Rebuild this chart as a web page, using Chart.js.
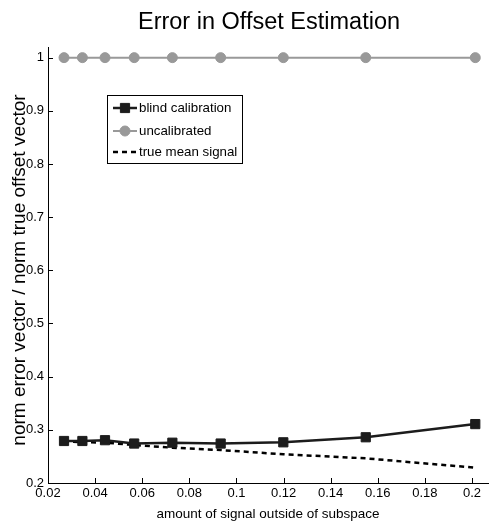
<!DOCTYPE html>
<html>
<head>
<meta charset="utf-8">
<script src="https://cdn.jsdelivr.net/npm/chart.js@4/dist/chart.umd.min.js"></script>
<style>
  html, body { margin: 0; padding: 0; background: #fff; }
  #wrap { width: 490px; height: 525px; }
</style>
</head>
<body>
<div id="wrap"><canvas id="c" width="490" height="525"></canvas></div>
<script>
// Fraction of the signal lying outside the subspace
const signalOutside = [0.0268, 0.0346, 0.0442, 0.0566, 0.0728, 0.0933, 0.1199, 0.1549, 0.2014];
// Relative offset error for each method
const blindCalibration = [0.279, 0.279, 0.2805, 0.2742, 0.2758, 0.2742, 0.2765, 0.286, 0.3108];
const uncalibrated     = [1, 1, 1, 1, 1, 1, 1, 1, 1];
const trueMeanSignal   = [0.278, 0.277, 0.276, 0.2714, 0.2664, 0.262, 0.254, 0.2464, 0.2288];
// Axis tick labels
const xTicks = [0.02, 0.04, 0.06, 0.08, 0.1, 0.12, 0.14, 0.16, 0.18, 0.2];
const yTicks = [0.2, 0.3, 0.4, 0.5, 0.6, 0.7, 0.8, 0.9, 1];

const FONT = '"Liberation Sans", Arial, Helvetica, sans-serif';
const toPoints = ys => signalOutside.map((x, i) => ({ x: x, y: ys[i] }));

// Inward tick marks on the left and bottom axes
const inwardTicks = {
  id: 'inwardTicks',
  afterDraw(chart) {
    const { ctx, chartArea: a, scales: { x, y } } = chart;
    ctx.save();
    ctx.strokeStyle = '#000';
    ctx.lineWidth = 1;
    ctx.beginPath();
    x.ticks.forEach(t => {
      const px = Math.round(x.getPixelForValue(t.value)) + 0.5;
      ctx.moveTo(px, a.bottom);
      ctx.lineTo(px, a.bottom - 5);
    });
    y.ticks.forEach(t => {
      const py = Math.round(y.getPixelForValue(t.value)) + 0.5;
      ctx.moveTo(a.left, py);
      ctx.lineTo(a.left + 5, py);
    });
    ctx.stroke();
    ctx.restore();
  }
};

// Title above the plot and the rotated y-axis label
const plotTexts = {
  id: 'plotTexts',
  afterDraw(chart) {
    const { ctx, chartArea: a } = chart;
    ctx.save();
    ctx.fillStyle = '#000';
    ctx.font = '23.5px ' + FONT;
    ctx.textAlign = 'center';
    ctx.textBaseline = 'alphabetic';
    ctx.fillText('Error in Offset Estimation', (a.left + a.right) / 2 + 1, 29);

    ctx.translate(25, (a.top + a.bottom) / 2 + 5);
    ctx.rotate(-Math.PI / 2);
    ctx.font = '19px ' + FONT;
    ctx.fillText('norm error vector / norm true offset vector', 0, 0);
    ctx.restore();
  }
};

// Boxed legend inside the plot area
const boxedLegend = {
  id: 'boxedLegend',
  afterDraw(chart) {
    const { ctx, chartArea: a } = chart;
    const left = a.left + 59, top = a.top + 48, w = 135, h = 68;
    ctx.save();
    ctx.fillStyle = '#fff';
    ctx.fillRect(left, top, w, h);
    ctx.strokeStyle = '#000';
    ctx.lineWidth = 1;
    ctx.strokeRect(left + 0.5, top + 0.5, w, h);
    const rows = [13, 36, 57];
    chart.data.datasets.forEach((ds, i) => {
      const cy = top + rows[i];
      ctx.save();
      ctx.strokeStyle = ds.borderColor;
      ctx.lineWidth = ds.borderWidth;
      ctx.setLineDash(ds.borderDash || []);
      ctx.beginPath();
      ctx.moveTo(left + 6, cy);
      ctx.lineTo(left + 30, cy);
      ctx.stroke();
      ctx.restore();
      if (ds.pointRadius > 0) {
        ctx.fillStyle = ds.pointBackgroundColor;
        ctx.strokeStyle = ds.pointBorderColor;
        ctx.lineWidth = 1;
        Chart.helpers.drawPoint(ctx, { pointStyle: ds.pointStyle, radius: ds.pointRadius, borderWidth: 1 }, left + 18, cy);
      }
      ctx.fillStyle = '#000';
      ctx.font = '13.3px ' + FONT;
      ctx.textAlign = 'left';
      ctx.textBaseline = 'middle';
      ctx.fillText(ds.label, left + 32, cy);
    });
    ctx.restore();
  }
};

new Chart(document.getElementById('c'), {
  type: 'line',
  data: {
    datasets: [
      {
        label: 'blind calibration',
        data: toPoints(blindCalibration),
        borderColor: '#1c1c1c',
        backgroundColor: '#1c1c1c',
        borderWidth: 2.5,
        pointStyle: 'rect',
        pointRadius: 6.5,
        pointBackgroundColor: '#1c1c1c',
        pointBorderColor: '#1c1c1c',
        pointBorderWidth: 1,
        tension: 0
      },
      {
        label: 'uncalibrated',
        data: toPoints(uncalibrated),
        borderColor: '#999999',
        backgroundColor: '#999999',
        borderWidth: 2,
        pointStyle: 'circle',
        pointRadius: 5,
        pointBackgroundColor: '#999999',
        pointBorderColor: '#999999',
        pointBorderWidth: 1,
        tension: 0
      },
      {
        label: 'true mean signal',
        data: toPoints(trueMeanSignal),
        borderColor: '#000000',
        backgroundColor: '#000000',
        borderWidth: 2.5,
        borderDash: [5, 4],
        pointRadius: 0,
        tension: 0
      }
    ]
  },
  options: {
    responsive: false,
    animation: false,
    devicePixelRatio: 1,
    clip: false,
    layout: { autoPadding: false, padding: { left: 0, top: 47, right: 2, bottom: 0 } },
    plugins: {
      legend: { display: false },
      title: { display: false },
      tooltip: { enabled: false }
    },
    scales: {
      x: {
        type: 'linear',
        min: 0.02,
        max: 0.2068,
        afterBuildTicks: s => { s.ticks = xTicks.map(v => ({ value: v })); },
        afterFit: s => { s.height = 42; s.paddingLeft = 0; s.paddingRight = 0; },
        grid: { display: false, drawTicks: false },
        border: { display: true, color: '#000', width: 1 },
        ticks: {
          color: '#000',
          font: { family: FONT, size: 13 },
          padding: 3,
          maxRotation: 0,
          autoSkip: false,
          callback: v => String(Number(v.toFixed(2)))
        },
        title: {
          display: true,
          text: 'amount of signal outside of subspace',
          color: '#000',
          font: { family: FONT, size: 13.5 },
          padding: { top: 0, bottom: 3 }
        }
      },
      y: {
        type: 'linear',
        min: 0.2,
        max: 1.02,
        afterBuildTicks: s => { s.ticks = yTicks.map(v => ({ value: v })); },
        afterFit: s => { s.width = 48; s.paddingTop = 0; s.paddingBottom = 0; },
        grid: { display: false, drawTicks: false },
        border: { display: true, color: '#000', width: 1 },
        ticks: {
          color: '#000',
          font: { family: FONT, size: 13 },
          padding: 4,
          autoSkip: false,
          callback: v => String(Number(v.toFixed(2)))
        }
      }
    }
  },
  plugins: [inwardTicks, plotTexts, boxedLegend]
});
</script>
</body>
</html>
